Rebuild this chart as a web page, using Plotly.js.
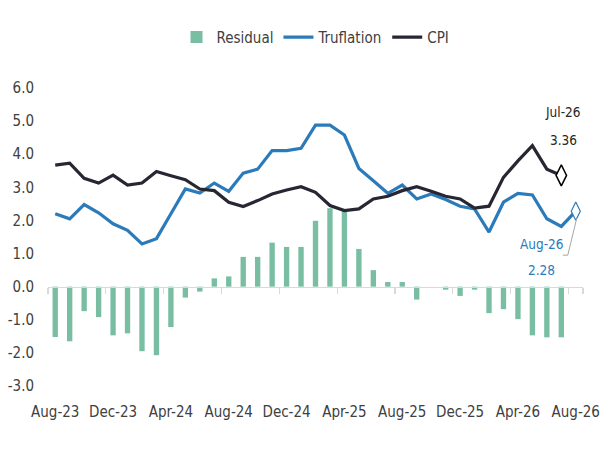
<!DOCTYPE html>
<html>
<head>
<meta charset="utf-8">
<script src="https://cdn.plot.ly/plotly-3.0.1.min.js"></script>
<style>html,body{margin:0;padding:0;background:#fff;}#chart{width:600px;height:450px;}</style>
</head>
<body>
<div id="chart"></div>
<script>
var months = ["Aug-23","Sep-23","Oct-23","Nov-23","Dec-23","Jan-24","Feb-24","Mar-24","Apr-24","May-24","Jun-24","Jul-24",
  "Aug-24","Sep-24","Oct-24","Nov-24","Dec-24","Jan-25","Feb-25","Mar-25","Apr-25","May-25","Jun-25","Jul-25",
  "Aug-25","Sep-25","Oct-25","Nov-25","Dec-25","Jan-26","Feb-26","Mar-26","Apr-26","May-26","Jun-26","Jul-26","Aug-26"];
var residual = [-1.52,-1.65,-0.74,-0.92,-1.47,-1.41,-1.95,-2.07,-1.22,-0.33,-0.15,0.25,
  0.31,0.90,0.90,1.33,1.20,1.20,1.99,2.37,2.30,1.14,0.50,0.14,
  0.14,-0.39,0,-0.09,-0.28,-0.09,-0.80,-0.68,-0.98,-1.47,-1.53,-1.53,null];
var truflation = [2.20,2.05,2.48,2.23,1.90,1.70,1.29,1.45,2.20,2.95,2.83,3.13,
  2.88,3.43,3.55,4.11,4.11,4.18,4.88,4.88,4.58,3.57,3.20,2.82,
  3.07,2.65,2.80,2.63,2.43,2.35,1.65,2.55,2.82,2.77,2.05,1.82,2.28];
var cpi = [3.67,3.73,3.27,3.13,3.37,3.07,3.13,3.48,3.35,3.23,2.95,2.90,
  2.55,2.42,2.60,2.80,2.92,3.02,2.85,2.45,2.30,2.35,2.65,2.73,
  2.90,3.02,2.88,2.73,2.65,2.37,2.43,3.30,3.80,4.26,3.55,3.36,null];
var xTickLabels = ["Aug-23","Dec-23","Apr-24","Aug-24","Dec-24","Apr-25","Aug-25","Dec-25","Apr-26","Aug-26"];
var yTickVals = [-3,-2,-1,0,1,2,3,4,5,6];
var yTickText = ["-3.0","-2.0","-1.0","0.0","1.0","2.0","3.0","4.0","5.0","6.0"];

var FONT = "DejaVu Sans Condensed, Liberation Sans Narrow, Roboto, sans-serif";
var GREEN = "#79bea3", BLUE = "#2b7bba", DARK = "#262733";

var lastCpiIdx = 35, lastTruIdx = 36;

var traces = [
  {type:"bar", name:"Residual", x:months, y:residual, xaxis:"x", yaxis:"y",
   marker:{color:GREEN}, hoverinfo:"x+y"},
  {type:"scatter", mode:"lines", name:"Truflation", x:months, y:truflation, xaxis:"x2", yaxis:"y",
   line:{color:BLUE, width:3.2}},
  {type:"scatter", mode:"lines", name:"CPI", x:months, y:cpi, xaxis:"x2", yaxis:"y",
   line:{color:DARK, width:3.2}},
  {type:"scatter", mode:"markers", showlegend:false, x:[months[lastCpiIdx]], y:[cpi[lastCpiIdx]], xaxis:"x2", yaxis:"y",
   marker:{symbol:"diamond-tall", size:15, color:"#ffffff", line:{color:"#000000", width:1.5}}},
  {type:"scatter", mode:"markers", showlegend:false, x:[months[lastTruIdx]], y:[truflation[lastTruIdx]], xaxis:"x2", yaxis:"y",
   marker:{symbol:"diamond-tall", size:13, color:"#ffffff", line:{color:BLUE, width:1.2}}}
];

var layout = {
  width:600, height:450,
  margin:{l:48, r:17, t:88, b:64},
  paper_bgcolor:"#ffffff", plot_bgcolor:"#ffffff",
  font:{family:FONT, size:15, color:"#404040"},
  bargap:0.63,
  showlegend:true,
  legend:{orientation:"h", x:0.5, xanchor:"center", y:1.17, yanchor:"middle",
          font:{family:FONT, size:15, color:"#404040"}, traceorder:"normal", itemwidth:30},
  xaxis:{type:"category", categoryorder:"array", categoryarray:months, range:[-0.5,36.5],
         anchor:"free", position:1/3, showline:true, linecolor:"#d9d9d9", linewidth:1.5,
         ticks:"outside", ticklen:6, tickcolor:"#d9d9d9", tickwidth:1.2, tickson:"boundaries",
         tickmode:"array", tickvals:xTickLabels, showticklabels:false, showgrid:false, zeroline:false, fixedrange:true},
  xaxis2:{type:"category", categoryorder:"array", categoryarray:months, range:[-0.5,36.5],
          overlaying:"x", anchor:"y", side:"bottom", showline:false, ticks:"", showgrid:false, zeroline:false,
          tickmode:"array", tickvals:xTickLabels, ticktext:xTickLabels, ticklabelstandoff:15,
          tickfont:{family:FONT, size:15, color:"#404040"}},
  yaxis:{range:[-3,6], tickmode:"array", tickvals:yTickVals, ticktext:yTickText, showgrid:false, zeroline:false,
         showline:false, ticks:"", ticklabelstandoff:13, tickfont:{family:FONT, size:15, color:"#404040"}},
  annotations:[
    {xref:"x2", yref:"y", x:months[lastCpiIdx], y:cpi[lastCpiIdx], text:months[lastCpiIdx], showarrow:false,
     xshift:2, yshift:63, font:{family:FONT, size:13.5, color:"#262626"}},
    {xref:"x2", yref:"y", x:months[lastCpiIdx], y:cpi[lastCpiIdx], text:cpi[lastCpiIdx].toFixed(2), showarrow:false,
     xshift:2, yshift:35, font:{family:FONT, size:13.5, color:"#262626"}},
    {xref:"x2", yref:"y", x:months[lastTruIdx], y:truflation[lastTruIdx], text:months[lastTruIdx], showarrow:false,
     xshift:-34, yshift:-33, font:{family:FONT, size:13.5, color:BLUE}},
    {xref:"x2", yref:"y", x:months[lastTruIdx], y:truflation[lastTruIdx], text:truflation[lastTruIdx].toFixed(2), showarrow:false,
     xshift:-34, yshift:-59, font:{family:FONT, size:13.5, color:BLUE}}
  ],
  shapes:[
    {type:"path", xref:"x2", yref:"y", xsizemode:"pixel", ysizemode:"pixel",
     xanchor:months[lastTruIdx], yanchor:truflation[lastTruIdx],
     path:"M -13,-44 L -8,-44 L 1,-7", line:{color:"#a6a6a6", width:1}}
  ]
};

Plotly.newPlot("chart", traces, layout, {displayModeBar:false, staticPlot:true});
</script>
</body>
</html>
